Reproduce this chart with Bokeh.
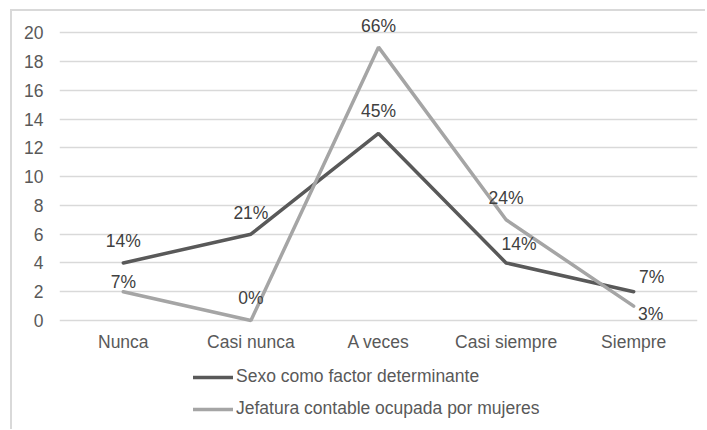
from bokeh.plotting import figure
from bokeh.models import ColumnDataSource, Legend, LegendItem, FactorRange, Range1d, FixedTicker
from bokeh.core.properties import value
from bokeh.embed import file_html
from bokeh.resources import INLINE

# ---- data ----
categories = ["Nunca", "Casi nunca", "A veces", "Casi siempre", "Siempre"]
sexo = [4, 6, 13, 4, 2]
jefatura = [2, 0, 19, 7, 1]
sexo_labels = ["14%", "21%", "45%", "14%", "7%"]
jefatura_labels = ["7%", "0%", "66%", "24%", "3%"]
y_ticks = [0, 2, 4, 6, 8, 10, 12, 14, 16, 18, 20]
series_names = ["Sexo como factor determinante", "Jefatura contable ocupada por mujeres"]

# ---- label nudges (pixels) ----
sexo_dx = [0, 0, 0, 13, 18]
sexo_dy = [-22, -21, -22, -19, -15]
jef_dx = [0, 0, 0, 0, 17]
jef_dy = [-10, -22, -21, -22, 8]

FONT = "Liberation Sans"
FS = "17.5px"
DARK = "#595959"
LIGHT = "#A5A5A5"
GRID = "#D9D9D9"

p = figure(
    x_range=FactorRange(*categories),
    y_range=Range1d(-7.09, 21.2),
    frame_width=638, frame_height=407,
    min_border_left=47, min_border_right=8, min_border_top=4, min_border_bottom=7,
    output_backend="svg", toolbar_location=None,
    background_fill_color="white", border_fill_color="white",
)
p.styles = {"margin-left": "10px", "margin-top": "9px",
            "border-left": "2px solid #D9D9D9", "border-top": "2px solid #D9D9D9"}
p.outline_line_color = None

p.xgrid.grid_line_color = None
p.ygrid.grid_line_color = GRID
p.ygrid.grid_line_width = 1.5
p.yaxis.ticker = FixedTicker(ticks=y_ticks)
p.xaxis.fixed_location = -0.5

for ax in (p.xaxis, p.yaxis):
    ax.axis_line_color = None
    ax.major_tick_line_color = None
    ax.minor_tick_line_color = None
    ax.major_tick_out = 0
    ax.major_tick_in = 0
    ax.major_label_text_font = FONT
    ax.major_label_text_font_size = FS
    ax.major_label_text_color = DARK
p.yaxis.major_label_standoff = 16
p.xaxis.major_label_standoff = 4

src1 = ColumnDataSource(dict(x=categories, y=sexo, t=sexo_labels, dx=sexo_dx, dy=sexo_dy))
src2 = ColumnDataSource(dict(x=categories, y=jefatura, t=jefatura_labels, dx=jef_dx, dy=jef_dy))

r1 = p.line("x", "y", source=src1, line_color=DARK, line_width=3.5, line_cap="round")
r2 = p.line("x", "y", source=src2, line_color=LIGHT, line_width=3.5, line_cap="round")

for s in (src1, src2):
    p.text("x", "y", text="t", source=s, x_offset="dx", y_offset="dy",
           text_font=value(FONT), text_font_size=FS, text_color="#404040",
           text_align="center", text_baseline="middle")

legend = Legend(items=[LegendItem(label=series_names[0], renderers=[r1]),
                       LegendItem(label=series_names[1], renderers=[r2])],
                orientation="vertical", location=(134, 3))
legend.margin = 0
legend.padding = 0
legend.spacing = 11
legend.glyph_width = 40
legend.glyph_height = 20
legend.label_height = 20
legend.label_standoff = 3
legend.label_text_font = FONT
legend.label_text_font_size = FS
legend.label_text_color = DARK
legend.border_line_color = None
legend.background_fill_alpha = 0
p.add_layout(legend)

open("out.html", "w").write(file_html(p, INLINE))
